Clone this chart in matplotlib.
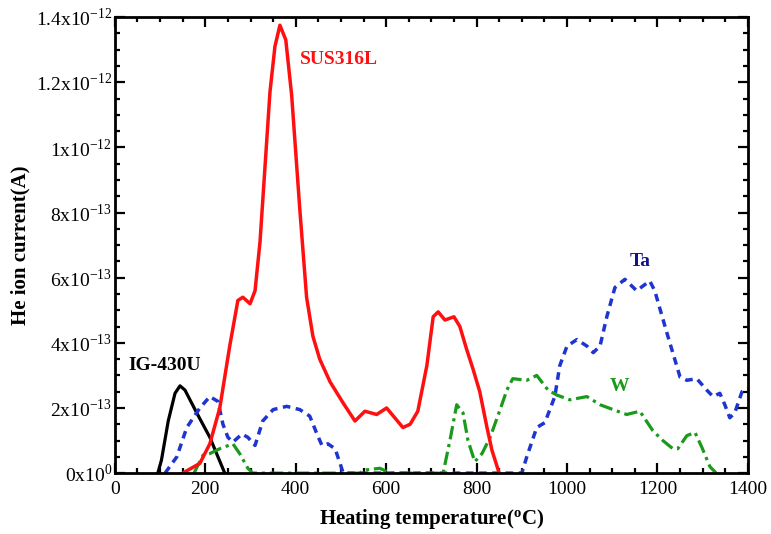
import numpy as np
import matplotlib
matplotlib.use("Agg")
from matplotlib import pyplot as plt
from matplotlib.ticker import MultipleLocator, FixedLocator

plt.rcParams['font.family'] = ['Liberation Serif', 'DejaVu Serif']
plt.rcParams['mathtext.fontset'] = 'custom'
plt.rcParams['mathtext.rm'] = 'Liberation Serif'
plt.rcParams['mathtext.bf'] = 'Liberation Serif:bold'

# currents in units of 1e-13 A, temperatures in deg C
sus_t = [150, 188, 210, 232, 254, 272, 283, 299, 310, 321, 343, 354, 365, 378, 391, 409,
         424, 438, 453, 476, 505, 531, 553, 579, 601, 619, 637, 653, 670, 690, 704, 715,
         730, 750, 763, 778, 792, 807, 823, 834, 850]
sus_i = [0, 0.3, 0.9, 2.0, 3.9, 5.3, 5.4, 5.2, 5.6, 7.1, 11.7, 13.1, 13.75, 13.3, 11.6, 8.1,
         5.4, 4.2, 3.5, 2.8, 2.15, 1.6, 1.9, 1.8, 2.0, 1.7, 1.4, 1.5, 1.9, 3.3, 4.8, 4.95,
         4.7, 4.8, 4.5, 3.8, 3.2, 2.5, 1.4, 0.7, 0.0]

ig_t = [95, 103, 118, 133, 144, 155, 181, 210, 228, 243]
ig_i = [0, 0.4, 1.6, 2.45, 2.68, 2.55, 1.85, 1.1, 0.5, 0]

ta_t = [111, 137, 159, 188, 210, 228, 239, 250, 261, 281, 294, 310, 327, 350, 380, 409,
        431, 447, 458, 471, 487, 498, 505, 540, 900, 911, 933, 951, 973, 984, 1000,
        1022, 1044, 1058, 1073, 1088, 1106, 1128, 1154, 1183, 1194, 1221, 1250, 1265,
        1287, 1309, 1323, 1338, 1349, 1360, 1371, 1387, 1400]
ta_i = [0, 0.5, 1.4, 2.0, 2.35, 2.2, 1.5, 1.1, 0.95, 1.2, 1.1, 0.85, 1.6, 1.95, 2.05, 1.95,
        1.75, 1.2, 0.85, 0.9, 0.75, 0.3, 0, 0, 0, 0.5, 1.4, 1.55, 2.35, 3.3, 3.9,
        4.1, 3.9, 3.7, 3.9, 4.8, 5.7, 5.95, 5.6, 5.9, 5.6, 4.3, 2.95, 2.85,
        2.9, 2.55, 2.35, 2.45, 2.1, 1.7, 1.85, 2.5, 2.6]

w_t = [175, 195, 210, 232, 261, 276, 294, 305, 540, 557, 586, 601, 615, 726, 741, 756,
       770, 781, 796, 812, 830, 852, 867, 880, 911, 933, 958, 977, 1006, 1044, 1073,
       1102, 1132, 1161, 1190, 1212, 1234, 1245, 1265, 1283, 1298, 1316, 1330]
w_i = [0, 0.55, 0.6, 0.75, 0.9, 0.6, 0.15, 0, 0, 0.1, 0.15, 0.05, 0, 0, 1.0, 2.1,
       1.85, 1.0, 0.35, 0.6, 1.1, 1.95, 2.55, 2.9, 2.85, 3.0, 2.55, 2.4, 2.25, 2.35, 2.1,
       1.95, 1.8, 1.9, 1.3, 1.0, 0.75, 0.75, 1.15, 1.25, 0.8, 0.2, 0]

y_ticks = [0, 2, 4, 6, 8, 10, 12, 14]
y_labels = [r'0x10$^{0}$', r'2x10$^{-13}$', r'4x10$^{-13}$', r'6x10$^{-13}$',
            r'8x10$^{-13}$', r'1x10$^{-12}$', r'1.2x10$^{-12}$', r'1.4x10$^{-12}$']

fig = plt.figure(figsize=(7.71, 5.34), dpi=100)
ax = fig.add_axes([0.149, 0.114, 0.821, 0.854])

kw = dict(solid_joinstyle='round', dash_joinstyle='round')
ax.plot(ig_t, ig_i, color='black', lw=2.3, **kw)
ax.plot(ta_t, ta_i, color='#1f35d0', lw=2.5, ls=(0, (2.2, 1.6)), **kw)
ax.plot(w_t, w_i, color='#1a9a1a', lw=2.3, ls=(0, (4.2, 1.5, 1.0, 1.5)), **kw)
ax.plot(sus_t, sus_i, color='#ff1010', lw=2.5, **kw)

ax.set_xlim(0, 1400)
ax.set_ylim(0, 14)
ax.xaxis.set_major_locator(MultipleLocator(200))
ax.xaxis.set_minor_locator(MultipleLocator(50))
ax.yaxis.set_major_locator(FixedLocator(y_ticks))
ax.yaxis.set_minor_locator(MultipleLocator(0.5))
ax.set_yticklabels(y_labels)

ax.tick_params(which='both', direction='in', top=True, right=True, width=1.6, labelsize=14)
ax.tick_params(which='major', length=7)
ax.tick_params(which='minor', length=3.5)
ax.tick_params(axis='x', pad=6)
ax.tick_params(axis='y', pad=2)
for s in ax.spines.values():
    s.set_linewidth(2)

ax.set_xlabel(r'Heating temperature($\mathbf{^{o}}$C)', fontsize=15, fontweight='bold', labelpad=6)
ax.set_ylabel('He ion current(A)', fontsize=15, fontweight='bold', labelpad=4)

ax.text(409, 12.7, 'SUS316L', color='#ff1010', fontsize=14, fontweight='bold', va='center')
ax.text(30, 3.3, 'IG-430U', color='black', fontsize=14, fontweight='bold', va='center')
ax.text(1161, 6.5, 'Ta', color='#14148a', fontsize=14, fontweight='bold', ha='center', va='center')
ax.text(1117, 2.65, 'W', color='#1a9a1a', fontsize=14, fontweight='bold', ha='center', va='center')

fig.savefig('out.png', dpi=100)
